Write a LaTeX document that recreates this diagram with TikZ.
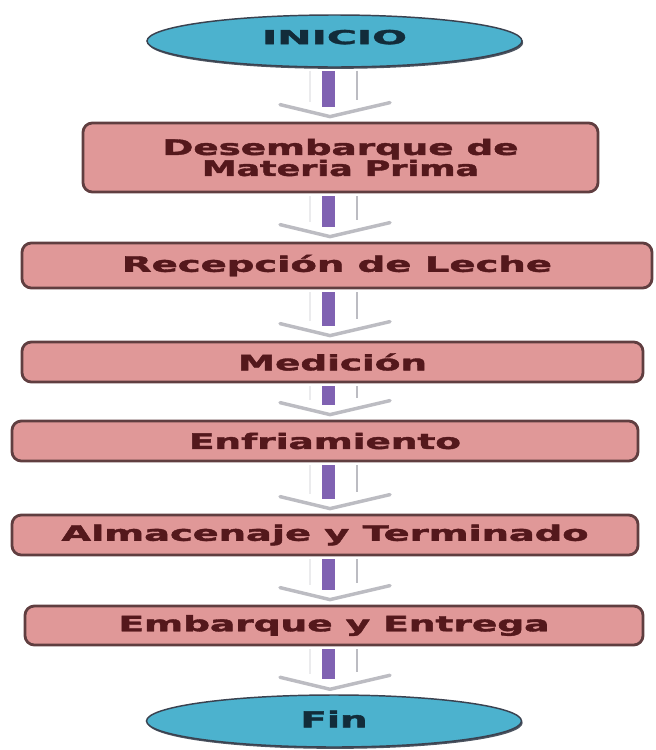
\documentclass[tikz,border=0pt]{standalone}
\usepackage{fontspec}
\setmainfont{DejaVu Sans}
\newfontfamily\heavy{DejaVu Sans}[BoldFeatures={FakeBold=1.6}]
\usetikzlibrary{shapes.geometric,calc,shadows}
\newlength\pxu
\setlength\pxu{0.75pt}
\newcommand\fitw[2]{\resizebox{#1\pxu}{\height}{#2}}
\definecolor{ellfill}{RGB}{76,178,206}
\definecolor{ellborder}{RGB}{58,66,80}
\definecolor{boxfill}{RGB}{224,152,152}
\definecolor{boxborder}{RGB}{96,62,64}
\definecolor{txtbox}{RGB}{84,24,28}
\definecolor{txtell}{RGB}{18,44,58}
\definecolor{arrpurple}{RGB}{128,98,178}
\definecolor{arrgray}{RGB}{188,188,194}
\newcommand\flowarr[2]{%
  \path (#1.south -| ax) coordinate (t) (#2.north -| ax) coordinate (b);
  \draw[shaftl] ($(t)+(-23,3)$) -- ($(b)+(-23,-20)$);
  \fill[arrpurple] ($(t)+(-11,3)$) rectangle ($(b)+(2,-15)$);
  \draw[shaftr] ($(t)+(24,3)$) -- ($(b)+(24,-22)$);
  \draw[chev] ($(b)+(-53,-17)$) -- ($(b)+(-3,-5)$) -- ($(b)+(57,-19)$);
}
\begin{document}
\begin{tikzpicture}[x=0.75pt,y=-0.75pt,
  ell/.style={ellipse, draw=ellborder, line width=1.1pt, fill=ellfill,
    minimum width=375*0.75pt, minimum height=52*0.75pt, inner sep=0pt,
    text=txtell, drop shadow={shadow xshift=0.9pt, shadow yshift=-1.4pt, fill=ellborder, opacity=0.9}},
  stepbox/.style={rectangle, rounded corners=7pt, draw=boxborder,
    line width=2.1pt, fill=boxfill, inner sep=0pt, text=txtbox,
    font=\heavy\bfseries\fontsize{16}{15.75}\selectfont},
  shaftl/.style={draw=arrgray!30, line width=1.2pt},
  shaftr/.style={draw=arrgray, line width=2.2pt},
  chev/.style={draw=arrgray, line width=2.6pt, line join=round, line cap=round}]
\useasboundingbox (0,0) rectangle (656,750);
\coordinate (ax) at (333,0);

\node[ell, font=\heavy\bfseries\fontsize{14.4}{16}\selectfont, text depth=6pt] (start) at (334.5,41) {\fitw{145}{INICIO}};

\node[stepbox, minimum width=515*0.75pt, minimum height=69*0.75pt, align=center] (b1) at (340.5,157.5)
  {\fitw{356}{Desembarque de}\\\fitw{277}{Materia Prima}};
\node[stepbox, minimum width=630*0.75pt, minimum height=45*0.75pt] (b2) at (337,265.5)
  {\fitw{430}{Recepción de Leche}};
\node[stepbox, minimum width=621*0.75pt, minimum height=40*0.75pt] (b3) at (332.5,362)
  {\fitw{189}{Medición}};
\node[stepbox, minimum width=626*0.75pt, minimum height=40*0.75pt] (b4) at (325,441)
  {\fitw{272}{Enfriamiento}};
\node[stepbox, minimum width=626*0.75pt, minimum height=40*0.75pt] (b5) at (325,535)
  {\fitw{527}{Almacenaje y Terminado}};
\node[stepbox, minimum width=618*0.75pt, minimum height=39*0.75pt] (b6) at (334,625.5)
  {\fitw{431}{Embarque y Entrega}};

\node[ell, font=\heavy\bfseries\fontsize{16.5}{18}\selectfont, text depth=3pt] (fin) at (334,721) {\fitw{67}{Fin}};

\flowarr{start}{b1}
\flowarr{b1}{b2}
\flowarr{b2}{b3}
\flowarr{b3}{b4}
\flowarr{b4}{b5}
\flowarr{b5}{b6}
\flowarr{b6}{fin}
\end{tikzpicture}
\end{document}
